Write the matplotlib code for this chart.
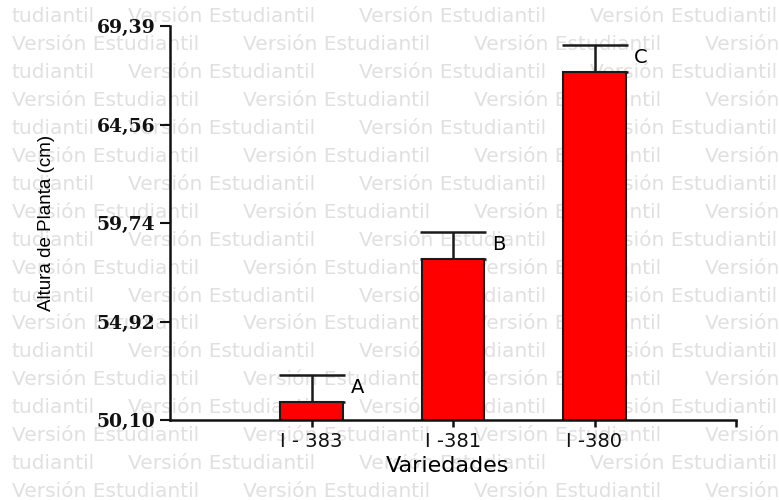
import matplotlib
matplotlib.use('Agg')
import matplotlib.pyplot as plt
import numpy as np

# data
variedades = ['I - 383', 'I -381', 'I -380']
altura_media = [51.00, 58.00, 67.15]
error_std = [1.30, 1.31, 1.31]
letras = ['A', 'B', 'C']
y_ticks = [50.10, 54.92, 59.74, 64.56, 69.39]
y_tick_labels = ['50,10', '54,92', '59,74', '64,56', '69,39']

W, H = 779, 500
fig = plt.figure(figsize=(W / 100, H / 100), dpi=100)
fig.patch.set_facecolor('white')

# watermark "Versión Estudiantil" behind everything
wm_color = '#e0e0e0'
period = 231
for k in range(18):
    yy = 1 - (17 + 27.9 * k) / H
    if k % 2 == 0:
        fig.text(12 / W, yy, 'tudiantil', color=wm_color, fontsize=14.5,
                 family='DejaVu Sans', va='center', ha='left', zorder=-5)
        starts = [128 + period * j for j in range(3)]
    else:
        starts = [12 + period * j for j in range(4)]
    for s in starts:
        fig.text(s / W, yy, 'Versión Estudiantil', color=wm_color, fontsize=14.5,
                 family='DejaVu Sans', va='center', ha='left', zorder=-5)

ax = fig.add_axes([170 / W, 1 - 420 / H, 566 / W, 394 / H])
ax.patch.set_visible(False)

x = np.arange(1, len(variedades) + 1)
ymin = y_ticks[0]
heights = [m - ymin for m in altura_media]
ax.bar(x, heights, bottom=ymin, width=0.44, color='#ff0000',
       edgecolor='#1a1a1a', linewidth=1.5, zorder=2)
ax.errorbar(x, altura_media, yerr=[np.zeros(len(x)), error_std], fmt='none',
            ecolor='#1a1a1a', elinewidth=1.8, capsize=23.5, capthick=1.8, zorder=1)

for xi, m, e, l in zip(x, altura_media, error_std, letras):
    ax.annotate(l, xy=(xi, m + e), xytext=(33, -9), textcoords='offset points',
                ha='center', va='center', fontsize=14, family='DejaVu Sans')

ax.set_xlim(0, 4)
ax.set_ylim(y_ticks[0], y_ticks[-1])
ax.set_xticks([1, 2, 3, 4])
ax.set_xticklabels(variedades + [''], fontsize=14, family='DejaVu Sans')
ax.set_yticks(y_ticks)
ax.set_yticklabels(y_tick_labels, fontsize=13.5, family='DejaVu Serif', fontweight='bold')

for side in ['top', 'right']:
    ax.spines[side].set_visible(False)
for side in ['left', 'bottom']:
    ax.spines[side].set_linewidth(1.8)
    ax.spines[side].set_color('#111111')
ax.tick_params(axis='y', direction='out', length=7.2, width=1.5, pad=3.5, colors='#111111')
ax.tick_params(axis='x', direction='out', length=5, width=1.8, pad=3.5, colors='#111111')

ax.set_xlabel('Variedades', fontsize=16, family='DejaVu Sans')
ax.xaxis.set_label_coords(0.49, -0.092)
ax.set_ylabel('Altura de Planta (cm)', fontsize=13.5, family='Liberation Sans')
ax.yaxis.set_label_coords(-0.203, 0.5)

plt.savefig('out.png', dpi=100)
